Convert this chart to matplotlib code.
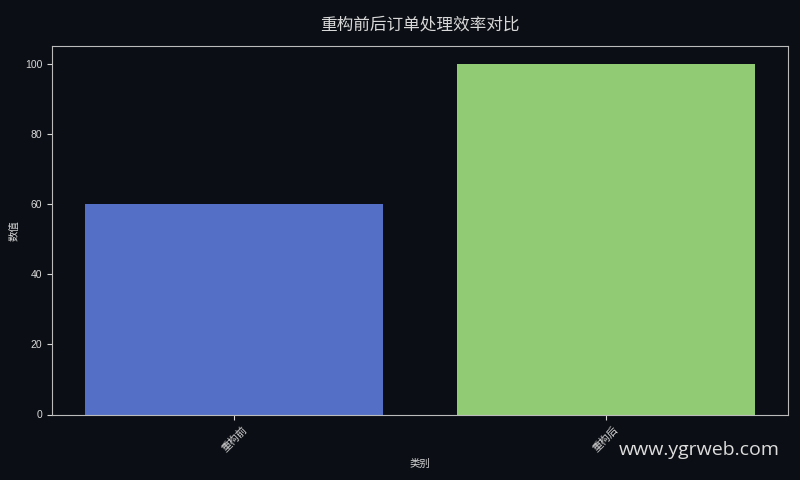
import matplotlib
matplotlib.use("Agg")
import matplotlib.pyplot as plt

categories = ["重构前", "重构后"]
values = [60, 100]
colors = ["#5470c6", "#91cc75"]

plt.rcParams['font.family'] = ['Liberation Sans', 'Noto Sans CJK SC', 'DejaVu Sans']
bg = "#0b0e14"
fg = "#d8d8d8"

fig = plt.figure(figsize=(8, 4.8), dpi=100, facecolor=bg)
ax = fig.add_axes([52/800, 1-414.5/480, (788-52)/800, (414.5-46)/480])
ax.set_facecolor(bg)
ax.bar(categories, values, width=0.8, color=colors)
ax.set_ylim(0, 105)

for s in ax.spines.values():
    s.set_color("#bbbbbb")
ax.tick_params(colors=fg, labelsize=7.5, length=3.5)
plt.setp(ax.get_xticklabels(), rotation=45)
ax.set_xlabel("类别", color=fg, fontsize=7.5)
ax.set_ylabel("数值", color=fg, fontsize=7.5)
ax.set_title("重构前后订单处理效率对比", color=fg, fontsize=12, pad=12)

fig.text(780/800, 1-455/480, "www.ygrweb.com", ha="right", va="baseline",
         fontsize=14, color="#dddddd", family=["Open Sans", "DejaVu Sans"])

fig.savefig("out.png", dpi=100, facecolor=bg)
